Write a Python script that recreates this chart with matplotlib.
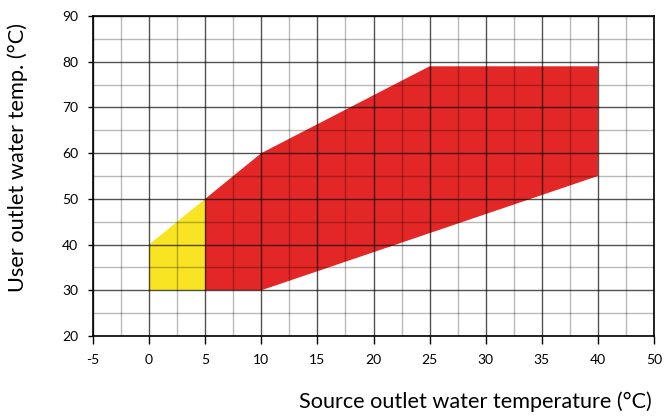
import matplotlib
matplotlib.use("Agg")
import matplotlib.pyplot as plt
from matplotlib.ticker import MultipleLocator

plt.rcParams['font.family'] = ['Lato', 'DejaVu Sans']

# Data
red_x = [5, 10, 40, 40, 25, 10, 5]
red_y = [30, 30, 55, 79, 79, 60, 50]
yellow_x = [0, 5, 5, 0]
yellow_y = [30, 30, 50, 40]
xticks = [-5, 0, 5, 10, 15, 20, 25, 30, 35, 40, 45]
xtick_labels = ['-5', '0', '5', '10', '15', '20', '25', '30', '35', '40', '50']
yticks = [20, 30, 40, 50, 60, 70, 80, 90]

W, H = 664, 417
fig = plt.figure(figsize=(W / 100, H / 100), dpi=100)
ax = fig.add_axes([93 / W, 1 - 336 / H, (654 - 93) / W, (336 - 16) / H])

ax.fill(red_x, red_y, color='#E32726', lw=0, zorder=1)
ax.fill(yellow_x, yellow_y, color='#F9E423', lw=0, zorder=1)

ax.set_xlim(-5, 45)
ax.set_ylim(20, 90)
ax.set_xticks(xticks)
ax.set_xticklabels(xtick_labels)
ax.set_yticks(yticks)
ax.xaxis.set_minor_locator(MultipleLocator(2.5))
ax.yaxis.set_minor_locator(MultipleLocator(5))

ax.grid(which='major', color='black', alpha=0.68, lw=1.0, zorder=2)
ax.grid(which='minor', color='black', alpha=0.27, lw=1.0, zorder=2)
ax.set_axisbelow(False)

for s in ax.spines.values():
    s.set_color('black')
    s.set_linewidth(1.2)
    s.set_zorder(3)

ax.tick_params(axis='x', which='major', length=5.8, width=1, color='black', labelsize=10, pad=7.5)
ax.tick_params(axis='y', which='major', length=3.6, width=1, color='black', labelsize=10, pad=7.2)
ax.tick_params(which='minor', length=0)

fig.text(652 / W, 1 - 408 / H, 'Source outlet water temperature (°C)', fontsize=15.6,
         ha='right', va='baseline')
fig.text(18 / W, 1 - 157 / H, 'User outlet water temp. (°C)', fontsize=15.7,
         rotation=90, ha='center', va='center')

fig.savefig('out.png', dpi=100)
